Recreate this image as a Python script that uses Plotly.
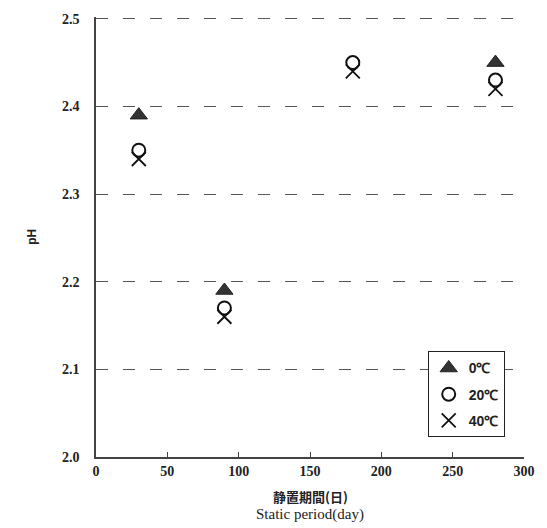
import plotly.graph_objects as go

days = [30, 90, 180, 280]
ph_0c = [2.39, 2.19, None, 2.45]
ph_20c = [2.35, 2.17, 2.45, 2.43]
ph_40c = [2.34, 2.16, 2.44, 2.42]
series_names = ["0℃", "20℃", "40℃"]
x_ticks = [0, 50, 100, 150, 200, 250, 300]
y_ticks = [2.0, 2.1, 2.2, 2.3, 2.4, 2.5]
y_tick_text = ["2.0", "2.1", "2.2", "2.3", "2.4", "2.5"]

fig = go.Figure()
fig.add_trace(go.Scatter(
    x=days, y=ph_0c, mode="markers", name=series_names[0], legendgroup="a",
    marker=dict(symbol="triangle-up", size=15, color="#333333",
                line=dict(color="#222222", width=1)),
))
fig.add_trace(go.Scatter(
    x=days, y=ph_20c, mode="markers", name=series_names[1], legendgroup="b",
    marker=dict(symbol="circle-open", size=13, color="#111111",
                line=dict(color="#111111", width=2)),
))
fig.add_trace(go.Scatter(
    x=days, y=ph_40c, mode="markers", name=series_names[2], legendgroup="c",
    marker=dict(symbol="x-thin-open", size=14, color="#111111",
                line=dict(color="#111111", width=1.8)),
))

tick_font = dict(family="Liberation Serif", size=14, color="#222222", weight="bold")

fig.update_layout(
    width=547, height=528,
    margin=dict(l=96, r=15, t=14, b=71),
    paper_bgcolor="white", plot_bgcolor="white",
    showlegend=True,
    legend=dict(
        x=0.775, y=0.24, xanchor="left", yanchor="top",
        bordercolor="#222222", borderwidth=1, bgcolor="white",
        font=dict(family="Liberation Sans", size=14, color="#222222", weight="bold"),
        traceorder="grouped", tracegroupgap=5, itemwidth=30,
    ),
    xaxis=dict(
        range=[0, 300], tickvals=x_ticks, showgrid=False, zeroline=False,
        showline=True, linecolor="#444444", linewidth=1.5,
        ticks="inside", ticklen=5, tickcolor="#444444",
        tickfont=tick_font,
    ),
    yaxis=dict(
        range=[2.0, 2.502], tickvals=y_ticks, ticktext=y_tick_text,
        showgrid=True, gridcolor="#555555", gridwidth=1.2, griddash="12px,15px",
        zeroline=False, showline=True, linecolor="#444444", linewidth=1.5,
        ticks="", tickfont=tick_font, ticklabelstandoff=12,
    ),
    annotations=[
        dict(text="<b>pH</b>", xref="paper", yref="paper", x=-0.15, y=0.5,
             textangle=-90, showarrow=False, xanchor="center", yanchor="middle",
             font=dict(family="Liberation Sans", size=12, color="#222222")),
        dict(text="<b>静置期間(日)</b>", xref="paper", yref="paper", x=0.5, y=-0.09,
             showarrow=False, xanchor="center", yanchor="middle",
             font=dict(family="Noto Sans CJK JP", size=13, color="#222222")),
        dict(text="Static period(day)", xref="paper", yref="paper", x=0.5, y=-0.13,
             showarrow=False, xanchor="center", yanchor="middle",
             font=dict(family="Liberation Serif", size=15, color="#222222")),
    ],
)

fig.write_html("out.html")
